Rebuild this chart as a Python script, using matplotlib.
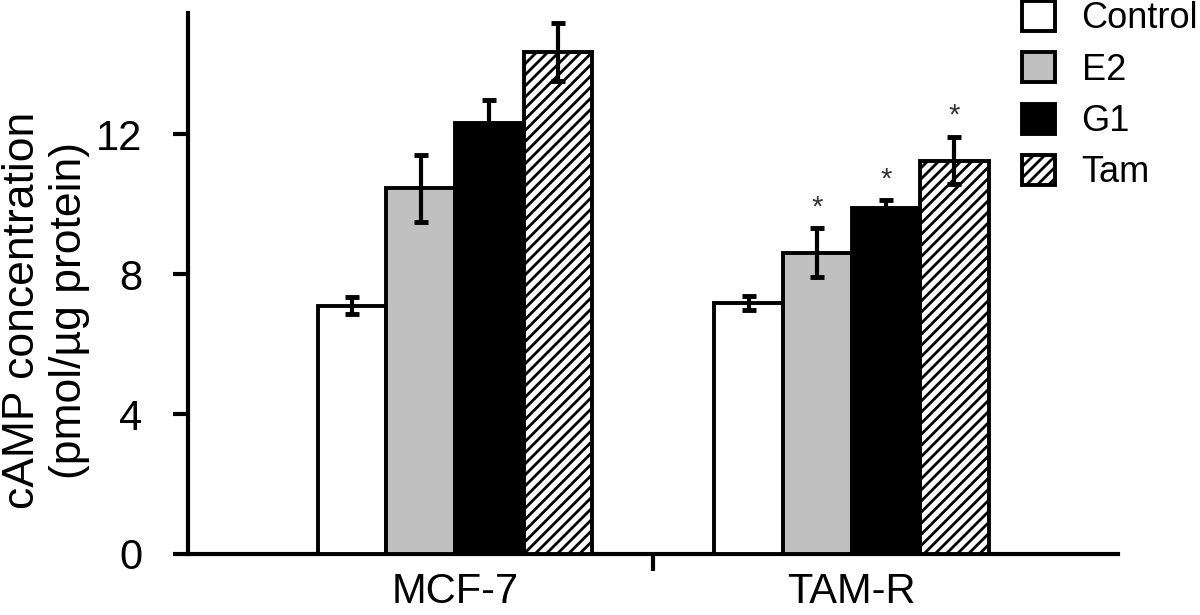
import matplotlib
matplotlib.use('Agg')
import matplotlib.pyplot as plt
from matplotlib.patches import Patch
import numpy as np

plt.rcParams['font.family'] = ['Liberation Sans', 'DejaVu Sans']
plt.rcParams['hatch.linewidth'] = 2.0

# data
groups = ['MCF-7', 'TAM-R']
treatments = ['Control', 'E2', 'G1', 'Tam']
control = [7.10, 7.18]
control_err = [0.24, 0.20]
e2 = [10.45, 8.61]
e2_err = [0.96, 0.70]
g1 = [12.32, 9.89]
g1_err = [0.65, 0.22]
tam = [14.35, 11.24]
tam_err = [0.82, 0.68]
signif = [False, True]  # asterisks on treated TAM-R bars

means = [control, e2, g1, tam]
errs = [control_err, e2_err, g1_err, tam_err]
colors = ['white', '#c0c0c0', 'black', 'white']
hatches = [None, None, None, '///']

fig = plt.figure(figsize=(12, 6.15), dpi=100)
ax = fig.add_axes([0.1567, 0.0992, 0.775, 0.8797])

x = np.arange(len(groups))
w = 0.173
for i in range(4):
    pos = x + (i - 1.5) * w
    ax.bar(pos, means[i], w, color=colors[i], edgecolor='black', linewidth=2.8,
           hatch=hatches[i], yerr=errs[i], zorder=3,
           error_kw=dict(ecolor='black', elinewidth=3, capsize=5, capthick=3.5, zorder=4))
    if i > 0:
        for j in range(len(groups)):
            if signif[j]:
                ax.text(pos[j], means[i][j] + errs[i][j] + 0.6, '*', ha='center', va='center',
                        fontsize=21, color='#333333')

ax.set_xlim(-0.673, 1.672)
ax.set_ylim(0, 15.46)
ax.set_yticks([0, 4, 8, 12])
ax.set_xticks(x)
ax.set_xticklabels(groups)
ax.set_xticks([0.5], minor=True)
ax.tick_params(axis='x', which='major', length=0, pad=13, labelsize=30)
ax.tick_params(axis='x', which='minor', length=12, width=3, direction='out')
ax.tick_params(axis='y', length=11, width=3, direction='out', pad=22, labelsize=30)

for s in ['top', 'right']:
    ax.spines[s].set_visible(False)
for s in ['left', 'bottom']:
    ax.spines[s].set_linewidth(3)

ax.set_ylabel('cAMP concentration\n(pmol/µg protein)', fontsize=32, linespacing=1.2)
ax.yaxis.set_label_coords(-0.105, 0.45)

handles = [Patch(facecolor=colors[i], edgecolor='black', linewidth=2.8, hatch=hatches[i])
           for i in range(4)]
fig.legend(handles, treatments, loc='upper left', bbox_to_anchor=(1022 / 1200, 1 - 1 / 615),
           frameon=False, fontsize=26, handlelength=0.9, handleheight=0.9,
           handletextpad=0.75, labelspacing=0.44, borderpad=0, borderaxespad=0)

fig.savefig('out.png', dpi=100)
